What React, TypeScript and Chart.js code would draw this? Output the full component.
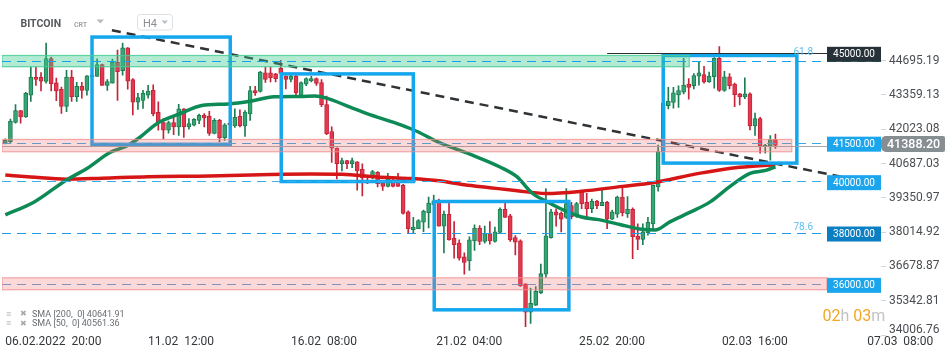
import React, { useEffect, useRef } from 'react';
import { Chart, registerables } from 'chart.js';

Chart.register(...registerables);

// ---- candle data (H4, from 06.02.2022 20:00) ----
const openP = [41480,41540,42290,42754,42500,43355,44057,44057,43890,44780,
43830,43580,42916,44057,43290,43690,43540,44060,44080,44545,
43730,43820,44630,44305,45194,43955,43081,43141,43355,43543,
42680,42280,41990,42280,42116,42818,42116,42180,42368,42566,
42529,41865,42368,41692,42240,42153,42529,42153,42615,43531,
43494,44218,44218,44180,44400,44093,43967,44093,43344,43779,
43910,43993,43843,42980,41928,41290,40678,40802,40678,40750,
40464,40025,40127,40340,39928,39800,39965,39965,39837,38801,
38110,38148,38400,38775,39087,39214,38250,38711,37773,37585,
37050,36900,37675,38175,37650,37960,37650,38000,38900,38651,
37800,37675,35997,34895,35171,35648,36373,37800,38801,38748,
38587,39050,38651,39590,39176,38926,39214,39050,39176,38524,
38711,39376,38738,38900,37860,37735,37987,38336,39777,41151,
42942,43066,43360,43468,43779,43719,44093,44155,43869,44068,
44781,43531,44068,43779,43404,43280,43404,42153,42443,41340,
41365,41617];
const highP = [41650,42420,42980,42760,43460,44444,44444,44230,45380,44830,
44020,43666,44320,44320,43855,43855,44110,44150,44770,44560,
43955,44755,45108,45382,45200,44000,43419,43540,43730,43757,
43090,42440,42340,42530,42990,42830,42440,42440,42615,42630,
42717,42443,42405,42240,42290,42818,42780,42745,43693,43693,
44282,44444,44444,44200,44706,44100,44143,44143,43870,44030,
44080,44030,43955,43318,42116,41300,40904,40810,40904,40760,
40678,40213,40427,40377,39965,40302,40090,40302,39875,38840,
38587,38500,38876,39376,39462,39300,38839,39214,38426,37712,
37210,37835,38299,38275,38250,38426,38212,38963,39176,38711,
37880,37712,36000,35836,35895,36774,39714,38900,38926,38801,
39714,39176,39176,39630,39526,39300,39250,39676,39214,38876,
39424,39837,39400,38963,38336,38336,38587,39837,41403,43028,
43655,43655,43718,44781,43993,44192,44657,44470,44245,44819,
45243,44282,44192,43817,43420,44030,43441,42653,42490,41440,
41778,41830];
const lowP = [41450,41480,42255,42255,42480,43103,43730,43516,43820,43516,
43140,42642,42705,43103,43103,43230,43355,44040,44080,43730,
43540,43820,43141,44130,43580,42578,42792,42830,43230,42540,
41990,41650,41870,41816,41780,41700,42030,42150,42240,42116,
41780,41840,41527,41590,42150,42090,42116,41740,42368,43340,
43470,43843,43870,43870,44150,43592,43870,43344,43318,43718,
43870,43730,42905,41816,40730,40090,40400,40490,40527,39650,
39424,39900,40090,39777,39640,39777,39777,39800,38711,37998,
37998,38148,38030,38175,39087,38250,37210,37700,37000,36925,
36373,36520,37300,37525,37585,37550,37620,37960,38587,37650,
37125,35897,34333,34458,35146,35620,36249,37775,38250,38025,
38550,38525,38587,38926,38587,38775,38926,39050,38148,38500,
38587,38651,38587,36985,37335,37525,37900,38110,39612,41100,
42818,42840,42870,43400,43194,43592,43742,43817,43843,43618,
43494,43494,43592,42905,42968,43216,41992,41778,41091,41091,
40814,41280];
const closeP = [41590,42330,42750,42500,43420,44057,43967,43892,44780,43795,
43516,42916,44057,43290,43690,43540,44100,44130,44545,43730,
43880,44630,44267,45194,43892,43081,43254,43419,43505,42630,
42280,41990,42280,42116,42818,42116,42240,42405,42566,42465,
41865,42368,41692,42191,42191,42491,42153,42690,43531,43441,
44245,43967,44030,43990,44200,43967,44093,43441,43843,43993,
43993,43805,42980,41853,41290,40678,40802,40678,40802,40400,
40127,39928,40377,39900,39800,40090,39800,39800,38748,38148,
38212,38463,38839,39150,39237,38250,38711,37712,37525,37000,
36834,37712,38175,37650,37960,37675,38025,38900,38587,37712,
37620,35922,34895,35246,35708,36399,37874,38801,38676,38523,
39124,38614,39124,39124,38926,39214,39050,39176,38524,38801,
39376,38775,38900,37836,37735,38025,38400,39837,41151,43028,
43118,43441,43531,43742,43655,44117,44218,43869,44093,44781,
43531,44068,43719,43366,43280,43404,42153,42443,41365,41403,
41617,41388.2];

// ---- moving averages (read at sample candles) ----
const sma200X = [0,5,12,19,28,40,52,60,66,73,79,85,90,95,100,106,113,121,127,136,144,151];
const sma200Y = [40239,40164,40077,40115,40175,40201,40258,40277,40265,40164,40107,40013,39861,39748,39635,39522,39608,39797,39937,40303,40541,40642];
const sma50X = [0,5.5,12,16,20.5,23.8,26.4,29.7,34.3,38.5,43.7,48,52.7,57.8,60.7,63,67.6,70.9,76.7,80,85.2,91.1,97,100.3,103.2,106.5,109.7,113,116.3,120.5,124.4,127.4,130.3,134.3,138.2,142.1,146,149.3,151];
const sma50Y = [38690,39170,40050,40492,41119,41372,41712,42241,42630,42947,43008,43110,43287,43298,43317,43234,42883,42630,42252,42003,41497,41051,40553,40175,39548,39170,38853,38604,38502,38313,38135,38098,38415,38792,39193,39797,40303,40428,40561];

// ---- trend line ----
const trendX = [20.9, 171.7];
const trendY = [45878, 39861];

// ---- rectangles ----
const boxFrom = [17.0, 54.1, 84.1, 129.0];
const boxTo = [44.1, 80.0, 110.5, 155.2];
const boxHigh = [45614, 44179, 39208, 44896];
const boxLow = [41436, 39986, 34989, 40704];

// ---- zones ----
const zoneHigh = [44896, 41625, 36236];
const zoneLow = [44458, 41146, 35771];
const zoneEnd = [134.1, 154.2, 161.1];

// ---- levels ----
const fibLevel = 44690;
const resistLevel = 45000;
const resistStart = 118;
const dashedLevels = [41500, 40000, 38000, 36000];
const lastPrice = 41388.2;
const sma200Last = 40641.91;
const sma50Last = 40561.36;

// ---- axes ----
const yTickVals = [44695.19, 43359.13, 42023.08, 40687.03, 39350.97, 38014.92, 36678.87, 35342.81, 34006.76];
const xTickPos = [0, 28, 56, 84.5, 112.5, 140.5, 169];
const xTickText = ['06.02.2022  20:00', '11.02  12:00', '16.02  08:00', '21.02  04:00', '25.02  20:00', '02.03  16:00', '07.03  08:00'];

export default function App() {
  const ref = useRef<HTMLCanvasElement>(null);

  useEffect(() => {
    const idx = closeP.map((_, i) => i);
    const up = idx.map(i => closeP[i] >= openP[i]);
    const fill = up.map(u => (u ? '#35a673' : '#e3394e'));
    const edge = up.map(u => (u ? '#1d7d52' : '#c42339'));
    const lastTick = yTickVals[yTickVals.length - 1];

    const overlay = {
      id: 'overlay',
      afterDatasetsDraw(chart: any) {
        const { ctx, chartArea: ca, scales } = chart;
        const X = (v: number) => scales.x.getPixelForValue(v);
        const Y = (v: number) => scales.y.getPixelForValue(v);
        const tagL = ca.right - 54;
        ctx.save();
        ctx.beginPath();
        ctx.rect(ca.left, ca.top, ca.right - ca.left, ca.bottom - ca.top);
        ctx.clip();

        // rectangles
        ctx.strokeStyle = '#15a7ee';
        ctx.lineWidth = 3.5;
        for (let i = 0; i < boxFrom.length; i++) {
          const x0 = X(boxFrom[i]), x1 = X(boxTo[i]);
          const y0 = Y(boxHigh[i]), y1 = Y(boxLow[i]);
          ctx.strokeRect(x0, y0, x1 - x0, y1 - y0);
        }

        // dashed levels (under zones)
        const dashColors = ['#3aa8e6', '#3aaeea', '#1f9ce4', '#5d9fd6'];
        ctx.lineWidth = 1;
        ctx.setLineDash([9, 6]);
        dashedLevels.forEach((v, i) => {
          const yy = Math.round(Y(v)) + 0.5;
          ctx.strokeStyle = dashColors[i];
          ctx.beginPath();
          ctx.moveTo(ca.left, yy);
          ctx.lineTo(tagL, yy);
          ctx.stroke();
        });
        ctx.setLineDash([]);

        // last price line
        {
          const yy = Math.round(Y(lastPrice)) + 0.5;
          ctx.strokeStyle = '#a3a6a9';
          ctx.beginPath();
          ctx.moveTo(ca.left, yy);
          ctx.lineTo(ca.right, yy);
          ctx.stroke();
        }
        // 45000 line
        {
          const yy = Math.round(Y(resistLevel)) + 0.5;
          ctx.strokeStyle = '#2a2e31';
          ctx.beginPath();
          ctx.moveTo(X(resistStart), yy);
          ctx.lineTo(tagL, yy);
          ctx.stroke();
        }

        // zones
        const zoneFill = ['rgba(60,200,140,0.39)', 'rgba(245,110,110,0.26)', 'rgba(245,110,110,0.26)'];
        const zoneLine = ['rgba(70,205,150,0.85)', 'rgba(240,140,140,0.75)', 'rgba(240,140,140,0.75)'];
        for (let i = 0; i < zoneHigh.length; i++) {
          const x0 = ca.left, x1 = X(zoneEnd[i]);
          const y0 = Y(zoneHigh[i]), y1 = Y(zoneLow[i]);
          ctx.fillStyle = zoneFill[i];
          ctx.fillRect(x0, y0, x1 - x0, y1 - y0);
          ctx.strokeStyle = zoneLine[i];
          ctx.lineWidth = 1.2;
          ctx.strokeRect(x0, y0, x1 - x0, y1 - y0);
        }

        // fib dashed line (on top)
        {
          const yy = Math.round(Y(fibLevel)) + 0.5;
          ctx.strokeStyle = '#17a3ea';
          ctx.lineWidth = 1;
          ctx.setLineDash([9, 6]);
          ctx.beginPath();
          ctx.moveTo(ca.left, yy);
          ctx.lineTo(ca.right, yy);
          ctx.stroke();
          ctx.setLineDash([]);
        }

        // fib texts
        ctx.font = '10px Roboto';
        ctx.fillStyle = '#5bbdf0';
        ctx.textAlign = 'right';
        ctx.textBaseline = 'alphabetic';
        ctx.fillText('61.8', tagL - 14, Y(fibLevel) - 5.5);
        ctx.fillText('78.6', tagL - 14, Y(38000) - 3);

        // level tags
        const tag = (v: number, bg: string, text: string) => {
          const cy = Y(v) + 1.5;
          ctx.fillStyle = bg;
          ctx.fillRect(tagL, cy - 7.5, 54, 15);
          ctx.fillStyle = '#ffffff';
          ctx.font = '10px Roboto';
          ctx.textAlign = 'center';
          ctx.textBaseline = 'middle';
          ctx.fillText(text, tagL + 27, cy + 0.5);
        };
        tag(resistLevel, '#263238', resistLevel.toFixed(2));
        tag(41500, '#1ba5ec', (41500).toFixed(2));
        tag(40000, '#1ba5ec', (40000).toFixed(2));
        tag(38000, '#0b7fc2', (38000).toFixed(2));
        tag(36000, '#1ba5ec', (36000).toFixed(2));

        ctx.restore();
      },
      afterDraw(chart: any) {
        const { ctx, chartArea: ca, scales } = chart;
        const Y = (v: number) => scales.y.getPixelForValue(v);
        ctx.save();
        // bottom y tick label, lifted to stay clear of the time axis
        ctx.font = '12px Roboto';
        ctx.fillStyle = '#4a4e52';
        ctx.textAlign = 'left';
        ctx.textBaseline = 'middle';
        ctx.fillText(lastTick.toFixed(2), ca.right + 8, Y(lastTick) - 5);

        // last price tag on axis
        const cy = Y(lastPrice) - 1.5;
        ctx.fillStyle = '#878e92';
        ctx.beginPath();
        (ctx as any).roundRect(ca.right, cy - 8, 64, 16, [5, 2, 2, 5]);
        ctx.fill();
        ctx.fillStyle = '#ffffff';
        ctx.font = '500 12.5px Roboto';
        ctx.fillText(lastPrice.toFixed(2), ca.right + 6, cy + 0.5);

        // title
        ctx.textBaseline = 'alphabetic';
        ctx.font = 'bold 10.5px Roboto';
        ctx.fillStyle = '#55595c';
        ctx.fillText('BITCOIN', 20.5, 27);
        ctx.font = 'bold 7px Roboto';
        ctx.fillStyle = '#a2a6aa';
        ctx.fillText('CRT', 74, 26.5);
        ctx.fillStyle = '#b8bcc0';
        ctx.beginPath();
        ctx.moveTo(96.5, 19.5); ctx.lineTo(104, 19.5); ctx.lineTo(100.25, 23.5); ctx.closePath();
        ctx.fill();
        ctx.strokeStyle = '#dde0e3';
        ctx.lineWidth = 1;
        ctx.beginPath();
        (ctx as any).roundRect(137.5, 14.5, 35, 15.5, 3);
        ctx.stroke();
        ctx.font = '11px Roboto';
        ctx.fillStyle = '#8a8e92';
        ctx.fillText('H4', 143, 27);
        ctx.fillStyle = '#bcc0c4';
        ctx.beginPath();
        ctx.moveTo(161.5, 20.5); ctx.lineTo(168, 20.5); ctx.lineTo(164.75, 24); ctx.closePath();
        ctx.fill();

        // legend
        const legend = [
          'SMA [200,  0] ' + sma200Last.toFixed(2),
          'SMA [50,  0] ' + sma50Last.toFixed(2),
        ];
        legend.forEach((t, i) => {
          const by = 316.5 + i * 9.5;
          ctx.fillStyle = '#a4a9ad';
          ctx.font = 'bold 9px Roboto';
          ctx.fillText('\u2261', 6, by);
          ctx.font = '8px Roboto';
          ctx.fillText('\u2716', 20, by - 0.5);
          ctx.fillStyle = '#6a6e72';
          ctx.font = '9px Roboto';
          ctx.fillText(t, 32, by);
        });

        // countdown
        ctx.font = '16px Roboto';
        let cx = 822.5;
        const parts = [['02', '#f5a623'], ['h', '#c0c3c6'], [' ', '#c0c3c6'], ['03', '#f5a623'], ['m', '#c0c3c6']];
        parts.forEach(([t, c]) => {
          ctx.fillStyle = c;
          ctx.fillText(t, cx, 320.5);
          cx += ctx.measureText(t).width;
        });
        ctx.restore();
      },
    };

    Chart.defaults.font.family = 'Roboto';

    const chart = new Chart(ref.current as HTMLCanvasElement, {
      type: 'bar',
      data: {
        datasets: [
          {
            type: 'line',
            data: trendX.map((x, i) => ({ x, y: trendY[i] })),
            borderColor: '#2f3336',
            borderWidth: 2.5,
            borderDash: [9, 6],
            pointRadius: 0,
            order: 1,
          },
          {
            type: 'line',
            data: sma50X.map((x, i) => ({ x, y: sma50Y[i] })),
            borderColor: '#0d8a55',
            borderWidth: 3.5,
            pointRadius: 0,
            cubicInterpolationMode: 'monotone',
            order: 2,
          },
          {
            type: 'line',
            data: sma200X.map((x, i) => ({ x, y: sma200Y[i] })),
            borderColor: '#d61616',
            borderWidth: 3.5,
            pointRadius: 0,
            cubicInterpolationMode: 'monotone',
            order: 2,
          },
          {
            type: 'bar',
            data: idx.map(i => ({ x: i, y: [lowP[i], highP[i]] })),
            backgroundColor: edge,
            barThickness: 1,
            grouped: false,
            order: 4,
          },
          {
            type: 'bar',
            data: idx.map(i => ({ x: i, y: [openP[i], closeP[i]] })),
            backgroundColor: fill,
            borderColor: edge,
            borderWidth: 1,
            borderSkipped: false,
            barThickness: 4,
            grouped: false,
            minBarLength: 1.5,
            order: 3,
          },
        ] as any,
      },
      options: {
        responsive: false,
        animation: false,
        devicePixelRatio: 1,
        layout: { padding: { left: 2, top: 0, right: 0, bottom: 0 } },
        plugins: { legend: { display: false }, tooltip: { enabled: false } },
        scales: {
          x: {
            type: 'linear',
            min: -0.65,
            max: 171.7,
            offset: false,
            grid: { display: false, drawTicks: false },
            border: { display: false },
            afterBuildTicks: (s: any) => { s.ticks = xTickPos.map(v => ({ value: v })); },
            afterFit: (s: any) => { s.height = 24; },
            ticks: {
              autoSkip: false,
              maxRotation: 0,
              align: 'start',
              padding: -1,
              color: '#35383b',
              font: { size: 12, family: 'Roboto' },
              callback: (_v: any, i: number) => xTickText[i],
            },
          },
          y: {
            type: 'linear',
            position: 'right',
            min: 33969,
            max: 46660,
            grid: { drawOnChartArea: false, drawTicks: true, tickLength: 5, color: '#d3d6d9' },
            border: { display: false },
            afterBuildTicks: (s: any) => { s.ticks = yTickVals.map(v => ({ value: v })); },
            afterFit: (s: any) => { s.width = 69; },
            ticks: {
              padding: 3,
              color: '#4a4e52',
              font: { size: 12, family: 'Roboto' },
              callback: (v: any) => (Number(v) === lastTick ? '' : Number(v).toFixed(2)),
            },
          },
        },
      } as any,
      plugins: [overlay],
    });
    return () => chart.destroy();
  }, []);

  return (
    <div style={{ position: 'absolute', left: 0, top: 0, width: 950, height: 360, background: '#fff' }}>
      <canvas ref={ref} width={950} height={360} style={{ display: 'block' }} />
    </div>
  );
}
